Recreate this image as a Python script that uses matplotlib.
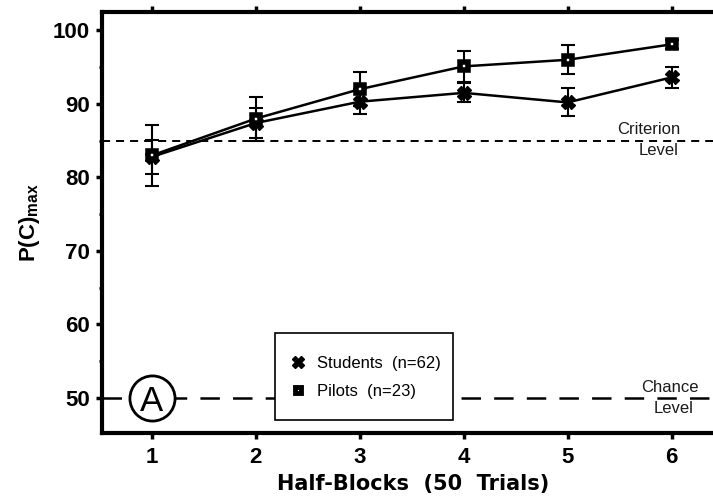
import matplotlib
matplotlib.use("Agg")
import matplotlib.pyplot as plt
from matplotlib.lines import Line2D
from matplotlib.patches import Rectangle
from matplotlib.ticker import MultipleLocator

# Mean maximum proportion correct per half-block, with error bars
half_blocks = [1, 2, 3, 4, 5, 6]
students_pc = [82.8, 87.4, 90.3, 91.5, 90.2, 93.6]
students_err = [2.3, 2.1, 1.7, 1.3, 1.9, 1.4]
pilots_pc = [83.0, 88.0, 92.0, 95.1, 96.0, 98.1]
pilots_err = [4.1, 3.0, 2.3, 2.1, 2.0, 0.6]
criterion_level = 85
chance_level = 50
y_ticks = [50, 60, 70, 80, 90, 100]
legend_labels = ["Students  (n=62)", "Pilots  (n=23)"]
panel_letter = "A"

plt.rcParams["font.family"] = ["Liberation Sans", "DejaVu Sans"]
plt.rcParams["mathtext.fontset"] = "custom"
plt.rcParams["mathtext.rm"] = "Liberation Sans"
plt.rcParams["mathtext.bf"] = "Liberation Sans:bold"
plt.rcParams["lines.scale_dashes"] = False

fig = plt.figure(figsize=(7.13, 4.97), dpi=100)
ax = fig.add_axes([0.1435, 0.1282, 0.8712, 0.8477])
ax.set_xlim(0.522, 6.5)
ax.set_ylim(45.2, 102.5)

# Frame: heavy left / top / bottom spines, right side runs off the page
for side in ("left", "top", "bottom"):
    ax.spines[side].set_linewidth(3)
ax.spines["right"].set_visible(False)

ax.set_xticks(half_blocks)
ax.set_yticks(y_ticks)
ax.yaxis.set_minor_locator(MultipleLocator(5))
ax.tick_params(axis="both", which="major", direction="out", length=4,
               width=2.5, labelsize=16)
ax.tick_params(axis="x", top=True, labeltop=False, pad=6)
ax.tick_params(axis="y", pad=5)
ax.tick_params(axis="y", which="minor", direction="out", length=2.5, width=2)
for lbl in ax.get_xticklabels() + ax.get_yticklabels():
    lbl.set_fontweight("bold")

# Reference levels
ax.axhline(criterion_level, color="black", lw=1.4, dashes=(5.8, 4.3), zorder=2)
ax.axhline(chance_level, color="black", lw=1.8, dashes=(14, 9.5), zorder=2)

txt_kw = dict(fontsize=12, color="#1a1a1a", zorder=6)
ax.text(6.089, 86.56, "Criterion", ha="right", va="center", **txt_kw)
ax.text(6.063, 83.65, "Level", ha="right", va="center", **txt_kw)
ax.text(5.983, 51.42, "Chance", ha="center", va="center", **txt_kw)
ax.text(6.015, 48.62, "Level", ha="center", va="center", **txt_kw)

# Error bars
err_kw = dict(fmt="none", ecolor="black", elinewidth=1.5, capsize=4.7,
              capthick=1.5, zorder=3)
ax.errorbar(half_blocks, students_pc, yerr=students_err, **err_kw)
ax.errorbar(half_blocks, pilots_pc, yerr=pilots_err, **err_kw)

# Series lines and markers
ax.plot(half_blocks, students_pc, color="black", lw=1.8, marker="X", ms=10,
        mfc="black", mec="black", zorder=3.5)
ax.plot(half_blocks, pilots_pc, color="black", lw=1.8, marker="s", ms=6,
        mfc="white", mec="black", mew=4, zorder=3.6)

# Panel letter in a circle sitting on the chance line
ax.plot([half_blocks[0]], [chance_level], marker="o", ms=32.5, mfc="white",
        mec="black", mew=2, ls="none", zorder=4, clip_on=False)
ax.text(half_blocks[0], chance_level, panel_letter, fontsize=25,
        ha="center", va="center_baseline", zorder=5)

# Legend box
ax.add_patch(Rectangle((0.278, 0.0316), 0.286, 0.2058, transform=ax.transAxes,
                       fc="white", ec="black", lw=1.2, zorder=4))
handles = [
    Line2D([], [], ls="none", marker="X", ms=9, color="black"),
    Line2D([], [], ls="none", marker="s", ms=5, mfc="white", mec="black",
           mew=3.5),
]
leg = ax.legend(handles, legend_labels, loc="upper left",
                bbox_to_anchor=(0.302, 0.183), frameon=False, fontsize=12,
                borderpad=0, borderaxespad=0, handlelength=1,
                handletextpad=0.6, labelspacing=0.75)
leg.set_zorder(6)

ax.set_xlabel("Half-Blocks  (50  Trials)", fontsize=15, fontweight="bold",
              family="DejaVu Sans", labelpad=4)
ax.set_ylabel(r"$\mathbf{P(C)_{max}}$", fontsize=16, labelpad=8)

fig.savefig("out.png", dpi=100)
